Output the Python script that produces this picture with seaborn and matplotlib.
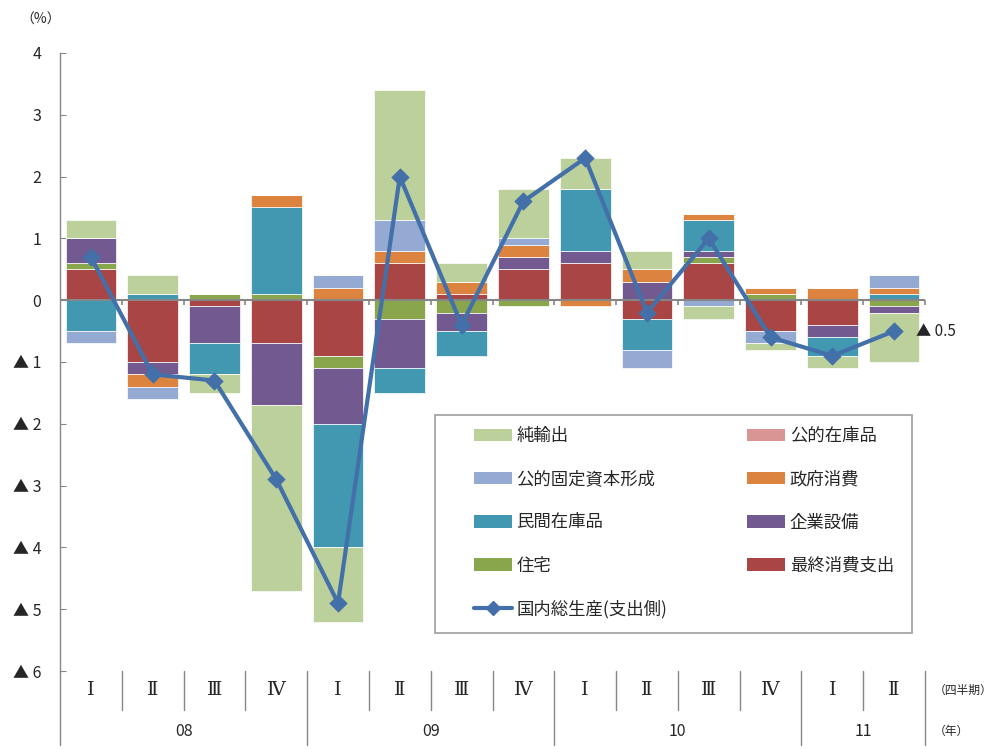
import numpy as np
import matplotlib
matplotlib.use("Agg")
import matplotlib.pyplot as plt
from matplotlib.patches import Patch, Rectangle
from matplotlib.lines import Line2D
from matplotlib.transforms import blended_transform_factory
import seaborn as sns

# 実質GDP成長率（前期比）の寄与度分解
periods = ["08Q1", "08Q2", "08Q3", "08Q4",
           "09Q1", "09Q2", "09Q3", "09Q4",
           "10Q1", "10Q2", "10Q3", "10Q4",
           "11Q1", "11Q2"]
quarter_labels = ["Ⅰ", "Ⅱ", "Ⅲ", "Ⅳ", "Ⅰ", "Ⅱ", "Ⅲ", "Ⅳ",
                  "Ⅰ", "Ⅱ", "Ⅲ", "Ⅳ", "Ⅰ", "Ⅱ"]
year_labels = ["08", "09", "10", "11"]
quarters_per_year = [4, 4, 4, 2]

final_consumption = [0.5, -1.0, -0.1, -0.7, -0.9, 0.6, 0.1, 0.5, 0.6, -0.3, 0.6, -0.5, -0.4, 0.0]
housing = [0.1, 0.0, 0.1, 0.1, -0.2, -0.3, -0.2, -0.1, 0.0, 0.0, 0.1, 0.1, 0.0, -0.1]
business_investment = [0.4, -0.2, -0.6, -1.0, -0.9, -0.8, -0.3, 0.2, 0.2, 0.3, 0.1, 0.0, -0.2, -0.1]
private_inventory = [-0.5, 0.1, -0.5, 1.4, -2.0, -0.4, -0.4, 0.0, 1.0, -0.5, 0.5, 0.0, -0.3, 0.1]
government_consumption = [0.0, -0.2, 0.0, 0.2, 0.2, 0.2, 0.2, 0.2, -0.1, 0.2, 0.1, 0.1, 0.2, 0.1]
public_investment = [-0.2, -0.2, 0.0, 0.0, 0.2, 0.5, 0.0, 0.1, 0.0, -0.3, -0.1, -0.2, 0.0, 0.2]
public_inventory = [0.0] * 14
net_exports = [0.3, 0.3, -0.3, -3.0, -1.2, 2.1, 0.3, 0.8, 0.5, 0.3, -0.2, -0.1, -0.2, -0.8]
gdp = [0.7, -1.2, -1.3, -2.9, -4.9, 2.0, -0.4, 1.6, 2.3, -0.2, 1.0, -0.6, -0.9, -0.5]

components = [
    ("最終消費支出", final_consumption, "#A94545"),
    ("住宅", housing, "#8AA64D"),
    ("企業設備", business_investment, "#72598F"),
    ("民間在庫品", private_inventory, "#4298B0"),
    ("政府消費", government_consumption, "#DC843F"),
    ("公的固定資本形成", public_investment, "#95AAD2"),
    ("公的在庫品", public_inventory, "#D89593"),
    ("純輸出", net_exports, "#BBD09A"),
]
gdp_label = "国内総生産(支出側)"
line_color = "#4470AA"
axis_gray = "#868686"

sns.set_style("white")
plt.rcParams["font.family"] = ["Noto Sans CJK JP", "DejaVu Sans"]

W, H = 998, 749
fig = plt.figure(figsize=(W / 100, H / 100), dpi=100)
ax = fig.add_axes([60 / W, (H - 671) / H, 865 / W, 618 / H])

# 正と負を別々に積み上げる
pos_base = np.zeros(len(periods))
neg_base = np.zeros(len(periods))
for name, vals, color in components:
    v = np.asarray(vals, dtype=float)
    base = np.where(v >= 0, pos_base, neg_base)
    sns.barplot(x=periods, y=v, order=periods, color=color, saturation=1,
                width=0.82, bottom=base, edgecolor="white", linewidth=0.5,
                errorbar=None, ax=ax, zorder=2)
    pos_base += np.clip(v, 0, None)
    neg_base += np.clip(v, None, 0)

# ゼロ線と区切り目盛り
ax.axhline(0, color=axis_gray, lw=1.5, zorder=3)
ax.vlines(np.arange(0.5, len(periods), 1.0), 0, -0.08, color=axis_gray,
          lw=1.2, zorder=3, clip_on=False)

sns.pointplot(x=periods, y=gdp, order=periods, color=line_color, markers="D",
              markersize=7.5, linewidth=3, markeredgecolor=line_color,
              errorbar=None, ax=ax, zorder=4)

last = len(gdp) - 1
txt = f"▲ {abs(gdp[last]):.1f}" if gdp[last] < 0 else f"{gdp[last]:.1f}"
ax.annotate(txt, xy=(last, gdp[last]), xytext=(16, 0), textcoords="offset points",
            ha="left", va="center", fontsize=11)

ax.set_xlim(-0.5, len(periods) - 0.5)
ax.set_ylim(-6, 4)
ax.set_xticks([])
ax.set_xlabel("")
ax.set_ylabel("")
yt = list(range(-6, 5))
ax.set_yticks(yt)
ax.set_yticklabels([str(t) if t >= 0 else f"▲ {abs(t)}" for t in yt])
ax.tick_params(axis="y", direction="in", length=4, color=axis_gray,
               labelsize=11.5, pad=13.5, left=True)
sns.despine(ax=ax, bottom=True)
ax.spines["left"].set_color(axis_gray)
ax.spines["left"].set_linewidth(1.0)

# 四半期・年の区分ラベル
trans = blended_transform_factory(ax.transData, ax.transAxes)
q_bottom = -39 / 618
y_bottom = -74 / 618
year_ends = np.cumsum(quarters_per_year)
year_bounds = set((year_ends - 0.5).tolist())
for b in np.arange(0.5, len(periods), 1.0):
    y1 = y_bottom if b in year_bounds else q_bottom
    ax.plot([b, b], [0, y1], color=axis_gray, lw=1.0, transform=trans, clip_on=False)
ax.plot([-0.5, -0.5], [0, y_bottom], color=axis_gray, lw=1.0, transform=trans, clip_on=False)
for i, q in enumerate(quarter_labels):
    ax.text(i, -19 / 618, q, transform=trans, ha="center", va="center",
            fontsize=14, family=["DejaVu Serif"])
starts = np.concatenate([[0], year_ends[:-1]])
for yl, s, e in zip(year_labels, starts, year_ends):
    ax.text((s + e - 1) / 2, -60 / 618, yl, transform=trans, ha="center",
            va="center", fontsize=11.5)

fig.text(934 / W, 1 - 690 / H, "（四半期）", ha="left", va="center", fontsize=8.5)
fig.text(934 / W, 1 - 731 / H, "（年）", ha="left", va="center", fontsize=8.5)
fig.text(20 / W, 1 - 20 / H, "（%）", ha="left", va="center", fontsize=10)

# 凡例
frame = Rectangle((435 / W, (H - 633) / H), 477 / W, 218 / H, transform=fig.transFigure,
                  facecolor="white", edgecolor="#A6A6A6", lw=1.3, zorder=4.5)
ax.add_patch(frame)
frame.set_clip_on(False)
cmap = {name: color for name, _, color in components}
col1 = ["純輸出", "公的固定資本形成", "民間在庫品", "住宅"]
col2 = ["公的在庫品", "政府消費", "企業設備", "最終消費支出"]
handles = [Patch(facecolor=cmap[n], edgecolor="none") for n in col1]
handles.append(Line2D([], [], color=line_color, lw=3, marker="D", markersize=7))
handles += [Patch(facecolor=cmap[n], edgecolor="none") for n in col2]
labels = col1 + [gdp_label] + col2
leg = ax.legend(handles, labels, ncol=2, loc="upper left",
                bbox_to_anchor=(474 / W, 1 - 427 / H), bbox_transform=fig.transFigure,
                frameon=False, fontsize=12.5, handlelength=2.2, handleheight=0.75,
                handletextpad=0.25, labelspacing=1.45, columnspacing=4.6,
                borderpad=0, borderaxespad=0)
leg.set_zorder(6)

fig.savefig("out.png", dpi=100)
